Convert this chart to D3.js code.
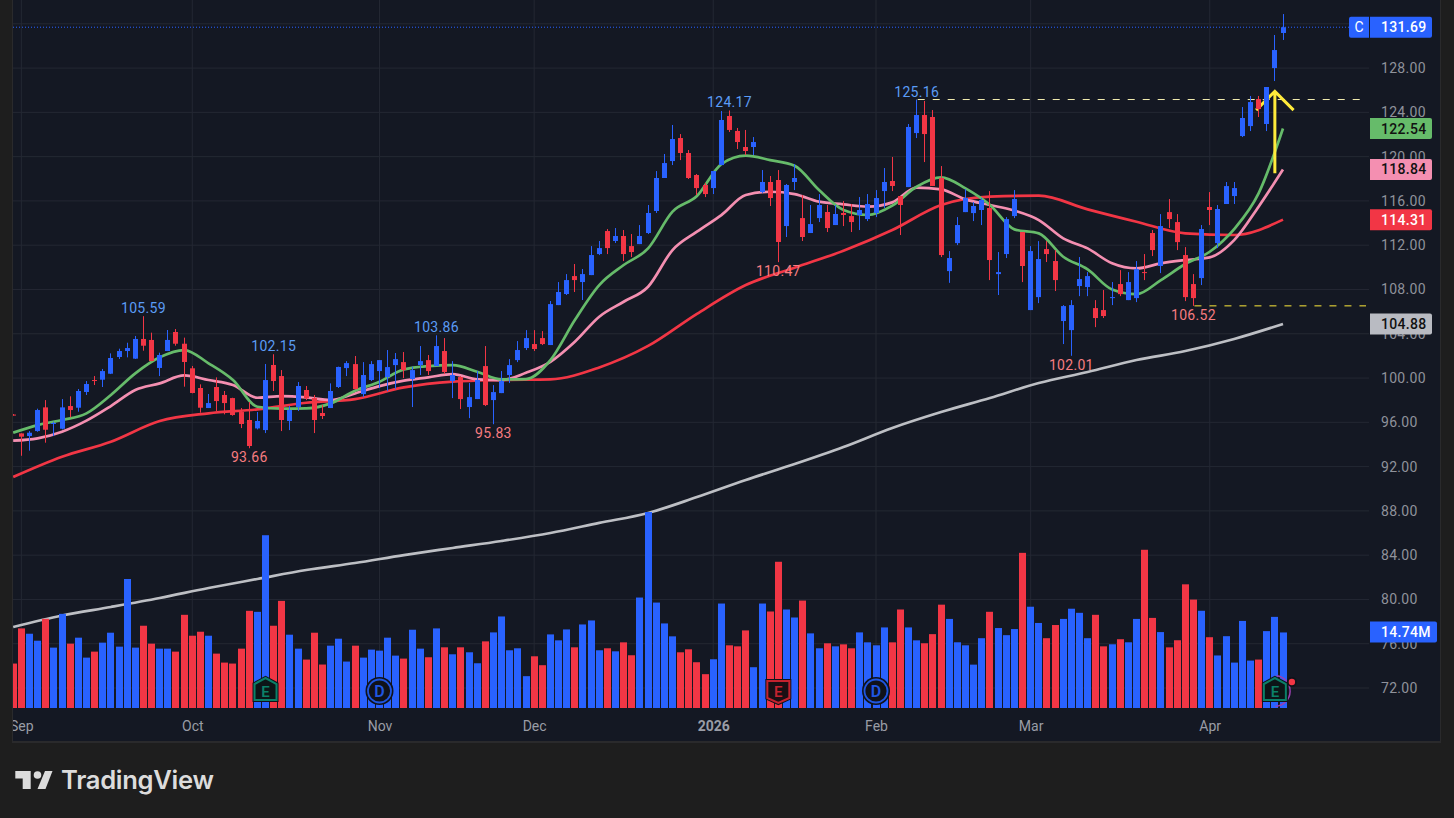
<!DOCTYPE html>
<html>
<head>
<meta charset="utf-8">
<script src="https://cdn.jsdelivr.net/npm/d3@7"></script>
<style>
html, body { margin: 0; padding: 0; background: #1e1e1e; overflow: hidden; }
svg { display: block; font-family: Roboto, "Open Sans", sans-serif; }
</style>
</head>
<body>
<svg id="chart" width="1454" height="818"></svg>
<script>
// candles, first entry is the half hidden bar before Sep
const opens = [96.70,95.00,94.76,95.21,97.35,95.85,95.42,97.47,97.32,98.74,99.82,99.85,100.39,101.90,102.44,101.75,103.53,103.44,100.91,102.44,104.16,103.10,100.88,99.10,97.29,99.19,98.47,98.19,96.93,96.21,95.45,95.30,101.18,100.18,96.12,97.38,98.92,98.19,96.84,97.29,99.19,
  100.90,101.26,98.55,99.82,100.63,100.09,101.17,101.44,99.91,101.17,101.62,101.08,102.44,99.73,100.09,97.38,98.10,101.08,98.01,98.64,100.27,101.62,102.71,103.07,103.61,102.98,106.59,107.59,109.21,108.67,109.30,111.20,113.28,112.38,112.83,111.92,
  112.10,113.10,115.09,118.07,119.60,121.68,120.33,118.34,117.44,117.16,119.24,123.67,122.32,120.87,120.87,116.80,117.71,117.89,113.73,117.71,114.45,113.10,114.45,115.00,113.82,114.91,114.63,114.73,114.36,114.91,116.89,117.80,116.44,117.25,122.13,123.76,123.58,118.07,109.66,
  112.19,114.99,114.90,115.18,115.36,109.39,111.20,114.63,113.19,106.14,107.31,111.65,110.57,105.15,104.33,108.31,108.22,106.32,106.14,107.22,108.49,107.04,107.22,109.57,113.10,110.12,114.99,114.09,111.11,108.49,109.03,115.45,112.19,115.72,116.44,
  121.86,122.76,125.20,122.95,128.00,131.17];
const highs = [96.75,95.00,95.21,97.23,98.01,96.06,98.10,98.35,99.01,99.73,100.18,100.82,102.23,102.65,103.19,103.80,105.59,104.10,102.29,104.34,104.43,103.65,101.09,99.43,98.56,100.06,98.83,98.22,97.29,97.83,96.93,101.27,102.15,100.72,97.47,99.64,99.28,98.47,97.56,99.52,101.03,
  101.53,101.99,101.44,101.53,101.62,102.53,102.26,102.35,101.02,102.89,102.08,103.86,103.61,101.53,100.18,99.55,100.63,102.89,99.36,100.63,101.71,103.34,104.33,104.33,104.24,106.96,108.67,109.39,110.30,109.85,111.92,112.38,113.46,113.55,113.37,113.01,
  113.82,115.63,118.70,120.24,122.86,122.04,120.60,118.43,117.62,118.70,124.12,124.17,122.59,122.41,121.77,118.79,118.25,118.79,117.53,119.33,116.53,115.63,116.62,115.63,115.63,115.99,115.72,116.35,116.62,116.98,118.97,119.97,116.44,122.95,125.16,125.03,124.21,119.15,111.47,
  114.54,117.07,115.90,116.26,116.89,111.38,114.54,116.98,113.19,111.92,112.37,112.37,111.56,106.59,107.04,110.93,109.57,107.04,107.95,108.67,109.75,109.57,110.57,111.20,113.37,114.81,116.17,114.81,111.83,109.39,113.82,116.80,115.63,117.71,117.71,
  124.48,125.48,125.48,126.29,130.99,132.88];
const lows = [96.60,92.98,93.44,95.15,94.16,94.76,95.36,96.45,96.96,98.47,99.37,99.19,100.36,101.72,101.87,101.72,102.47,101.51,100.18,102.44,102.92,99.22,98.62,96.87,97.29,97.02,96.72,96.60,95.48,93.66,95.36,95.03,98.83,95.21,95.30,97.02,98.01,95.03,96.30,97.29,99.10,
  100.18,98.97,98.28,99.73,99.09,98.82,99.00,100.00,97.38,100.27,100.27,101.08,100.36,98.19,97.20,96.38,98.10,97.47,95.83,98.64,99.55,101.44,102.53,102.44,102.98,102.98,106.59,107.50,107.77,107.05,109.30,111.11,111.20,112.20,110.57,110.93,
  112.10,113.01,114.91,118.07,119.24,119.69,117.98,116.53,116.35,116.62,119.24,122.23,120.69,120.15,120.15,116.71,115.54,110.47,112.74,116.98,112.38,113.10,114.09,113.19,113.82,113.73,113.19,113.37,114.18,114.54,115.36,116.89,112.92,117.25,121.68,119.51,117.35,110.93,108.60,
  112.01,114.99,114.18,113.82,108.85,107.50,110.84,114.45,108.67,106.14,106.77,110.48,107.86,103.07,102.01,107.40,107.40,104.60,105.42,106.59,107.40,107.04,106.86,108.85,111.02,109.48,113.55,111.56,106.95,106.52,108.40,113.82,111.74,115.72,115.72,
  121.77,122.31,123.58,122.31,126.83,130.54];
const closes = [96.62,94.70,95.06,97.11,95.33,95.94,97.35,97.11,98.83,99.46,99.73,100.63,101.81,102.44,102.71,103.53,102.92,101.54,102.08,103.44,103.10,101.45,98.65,97.32,97.74,97.92,97.74,96.66,95.85,93.86,96.12,99.82,99.73,96.21,97.11,99.28,98.16,96.21,96.57,98.83,101.00,
  101.35,99.00,100.27,101.26,101.62,100.99,101.71,100.72,100.72,101.53,100.63,102.89,100.54,100.27,98.10,98.28,99.82,97.56,98.73,99.73,101.17,102.53,103.61,102.62,103.07,106.68,107.77,108.85,108.85,109.39,111.11,111.74,111.74,112.83,111.20,111.38,
  112.83,114.91,118.07,119.42,121.59,120.33,118.07,117.16,116.62,118.70,123.31,122.41,121.32,120.51,121.32,117.71,116.26,112.29,117.44,118.07,112.74,113.91,115.63,113.55,114.82,114.73,114.09,115.18,115.72,116.26,117.71,117.35,115.63,122.68,123.76,122.04,117.35,111.11,110.84,
  113.82,116.26,115.54,116.08,110.66,109.57,114.36,116.17,110.12,111.47,110.75,111.20,108.85,106.50,106.59,108.94,109.21,105.42,105.60,107.31,107.58,108.67,109.84,109.48,111.56,113.73,114.36,112.28,107.31,107.22,113.46,115.18,115.27,117.34,117.16,
  123.49,124.93,124.30,126.29,129.63,131.69];
// volume in millions
const volumes = [8.67,15.53,14.49,13.13,17.40,11.78,18.37,12.55,13.72,9.83,11.00,12.75,14.69,11.97,25.17,11.78,16.05,12.55,11.58,11.58,11.00,18.18,14.10,14.88,14.10,10.61,8.86,8.67,11.58,18.96,18.76,33.71,16.05,20.90,14.30,11.58,9.45,14.69,8.48,12.16,13.52,
  9.06,12.16,9.83,11.39,11.19,13.72,10.22,9.64,15.27,11.58,9.90,15.53,11.84,10.48,11.84,10.87,8.73,13.00,14.75,17.86,11.26,11.65,6.21,10.09,8.35,14.36,13.20,15.33,11.84,16.30,17.08,11.26,11.65,11.06,12.81,10.29,
  21.55,38.24,20.57,16.50,13.98,10.87,11.45,8.93,6.60,9.51,20.38,12.23,12.03,15.14,7.96,20.38,18.83,28.53,19.22,17.66,20.96,14.56,11.65,12.62,12.03,12.42,11.65,14.75,12.81,12.23,15.72,12.81,19.22,15.72,13.20,
  12.63,14.41,20.16,17.38,12.82,12.23,8.46,13.62,18.77,15.60,14.21,15.40,30.27,19.76,16.59,13.62,16.19,17.38,19.37,18.57,13.62,18.18,12.03,12.43,13.42,12.82,17.38,30.87,17.58,14.81,11.83,13.22,24.13,21.15,18.97,13.81,10.25,14.01,8.86,
  16.99,9.25,9.45,15.00,17.78,14.74];

// moving averages, read every 3 bars (green, pink) or every 6 bars (red, grey)
const fastIdx = d3.range(-1, 156, 3);
const slowIdx = d3.range(-1, 156, 6);
const greenMA = [95.06,95.75,96.21,96.81,98.47,100.42,101.87,102.53,101.33,99.82,97.41,97.23,97.26,97.71,98.85,99.67,100.78,101.08,101.17,100.57,99.88,99.91,101.62,105.24,108.4,110.21,111.71,115.03,116.44,119.33,120.09,119.69,119.18,116.98,115.18,114.73,115.57,117.29,118.13,117.13,115.63,113.43,113.07,110.96,109.81,108.0,107.58,108.85,110.3,111.41,113.46,116.68,122.54];
const pinkMA = [94.34,94.55,95.15,96.15,97.47,98.92,99.52,100.24,99.82,99.37,98.22,98.37,98.25,98.01,98.61,99.27,99.76,100.06,100.36,99.88,99.82,100.48,101.47,103.28,105.54,106.89,108.25,111.56,113.22,114.72,116.53,116.83,116.62,115.93,115.69,115.48,115.87,117.2,117.04,116.14,115.63,115.12,114.27,112.62,111.71,110.36,109.9,110.36,110.66,110.9,112.46,115.48,118.84];
const redMA = [91.06,92.89,94.25,96.12,96.81,97.17,97.77,98.1,99.15,99.67,99.82,99.88,100.96,102.9,105.8,108.4,109.97,111.5,113.37,115.63,116.38,116.47,115.24,114.12,113.07,112.92,114.31];
const greyMA = [77.51,78.55,79.32,80.13,81.03,81.85,82.66,83.29,84.01,84.65,85.28,86.0,86.91,87.81,89.25,90.79,92.23,93.77,95.49,96.93,98.2,99.55,100.55,101.63,102.44,103.53,104.88];

const priceTicks = d3.range(72, 133, 4);
const monthIdx = [0, 21, 44, 63, 85, 105, 124, 146];
const monthLabels = ["Sep", "Oct", "Nov", "Dec", "2026", "Feb", "Mar", "Apr"];

const highNotes = [[15, 105.59], [31, 102.15], [51, 103.86], [87, 124.17], [110, 125.16]];
const lowNotes = [[28, 93.66], [58, 95.83], [93, 110.47], [129, 102.01], [144, 106.52]];
const levels = [[110, 125.16, "#f4eeb0"], [144, 106.52, "#ffeb3b"]];
const events = [[30, "E", "up"], [44, "D"], [93, "E", "down"], [105, "D"], [154, "E", "up"]];
const arrowFrom = [154, 118.5];
const arrowTo = [154, 125.9];
const arrowWing = 2.3;

const BLUE = "#2962ff", RED = "#f23645", GREEN = "#66bb6a", PINK = "#f48fb1", GREY = "#bdbfc4";

const svg = d3.select("#chart");

const x = d3.scaleLinear().domain([-1, 155]).range([13.2, 1283]);
const y = d3.scaleLinear().domain([72, 132]).range([688, 23.8]);
const yVol = d3.scaleLinear().domain([0, 38.24]).range([708, 512]);

// chart panel
svg.append("rect").attr("x", 12).attr("y", 0).attr("width", 1429).attr("height", 743).attr("fill", "#2a2a2c");
svg.append("rect").attr("x", 13).attr("y", 0).attr("width", 1427).attr("height", 741).attr("fill", "#141823");

svg.append("defs").append("clipPath").attr("id", "pane")
  .append("rect").attr("x", 13).attr("y", 0).attr("width", 1356).attr("height", 741);

const pane = svg.append("g").attr("clip-path", "url(#pane)");

// grid
pane.append("g").selectAll("line").data(priceTicks).join("line")
  .attr("x1", 13).attr("x2", 1369).attr("y1", d => y(d)).attr("y2", d => y(d))
  .attr("stroke", "#242833");
pane.append("g").selectAll("line").data(monthIdx).join("line")
  .attr("x1", d => x(d)).attr("x2", d => x(d)).attr("y1", 0).attr("y2", 708)
  .attr("stroke", "#242833");

// moving averages
const maLine = d3.line().x(d => x(d[0])).y(d => y(d[1])).curve(d3.curveMonotoneX);
const maSeries = [
  [slowIdx, greyMA, GREY],
  [slowIdx, redMA, RED],
  [fastIdx, pinkMA, PINK],
  [fastIdx, greenMA, GREEN]
];
maSeries.forEach(([idx, vals, color]) => {
  pane.append("path")
    .attr("d", maLine(idx.map((d, i) => [d, vals[i]])))
    .attr("fill", "none").attr("stroke", color).attr("stroke-width", 2.7);
});

// volume
const bars = d3.range(closes.length);
pane.append("g").selectAll("rect").data(bars).join("rect")
  .attr("x", d => Math.floor(x(d - 1)) - 3).attr("width", 7)
  .attr("y", d => yVol(volumes[d])).attr("height", d => 708 - yVol(volumes[d]))
  .attr("fill", d => closes[d] >= opens[d] ? BLUE : RED);

// close price dotted line
pane.append("line").attr("x1", 13).attr("x2", 1349).attr("y1", y(131.69)).attr("y2", y(131.69))
  .attr("stroke", BLUE).attr("stroke-dasharray", "1 2");

// level lines
pane.append("g").selectAll("line").data(levels).join("line")
  .attr("x1", d => x(d[0]) + 1).attr("x2", 1366).attr("y1", d => y(d[1])).attr("y2", d => y(d[1]))
  .attr("stroke", d => d[2]).attr("stroke-dasharray", "7 8");

// arrow
pane.append("path")
  .attr("d", d3.line()([
    [x(arrowFrom[0]), y(arrowFrom[1])],
    [x(arrowTo[0]), y(arrowTo[1])]
  ]) + d3.line()([
    [x(arrowTo[0] - arrowWing), y(arrowTo[1] - 1.7)],
    [x(arrowTo[0]), y(arrowTo[1])],
    [x(arrowTo[0] + arrowWing), y(arrowTo[1] - 1.7)]
  ]))
  .attr("fill", "none").attr("stroke", "#ffeb3b").attr("stroke-width", 3);

// candles
const candles = pane.append("g").selectAll("g").data(bars).join("g")
  .attr("fill", d => closes[d] >= opens[d] ? BLUE : RED);
candles.append("rect")
  .attr("x", d => Math.floor(x(d - 1))).attr("width", 1)
  .attr("y", d => y(highs[d])).attr("height", d => y(lows[d]) - y(highs[d]));
candles.append("rect")
  .attr("x", d => Math.floor(x(d - 1)) - 2).attr("width", 5)
  .attr("y", d => y(Math.max(opens[d], closes[d])))
  .attr("height", d => Math.max(1, Math.abs(y(opens[d]) - y(closes[d]))));

// high / low notes
pane.append("g").selectAll("text").data(highNotes).join("text")
  .attr("x", d => x(d[0])).attr("y", d => y(d[1]) - 3)
  .attr("text-anchor", "middle").attr("fill", "#5b9cf6").attr("font-size", 14)
  .attr("letter-spacing", 0.3).text(d => d[1].toFixed(2));
pane.append("g").selectAll("text").data(lowNotes).join("text")
  .attr("x", d => x(d[0])).attr("y", d => y(d[1]) + 14)
  .attr("text-anchor", "middle").attr("fill", "#f77c80").attr("font-size", 14)
  .attr("letter-spacing", 0.3).text(d => d[1].toFixed(2));

// earnings and dividend badges
const housePts = "-11,-7 0,-13 11,-7 11,9 -11,9";
const shieldPts = "-11,-10 11,-10 11,7 0,12 -11,7";
const badges = pane.append("g").selectAll("g").data(events).join("g")
  .attr("transform", d => `translate(${x(d[0])},691)`);
badges.filter((d, i) => i === events.length - 1).append("path")
  .attr("d", d3.arc()({ innerRadius: 14.5, outerRadius: 16, startAngle: 0.1, endAngle: 3.1 }))
  .attr("fill", "#9c3fb0");
badges.each(function (d) {
  const g = d3.select(this);
  const color = d[1] === "D" ? "#1f56e0" : d[2] === "up" ? "#0b8068" : "#c4222f";
  if (d[1] === "D") {
    g.append("circle").attr("r", 14).attr("fill", "#10121a");
    g.append("circle").attr("r", 11.5).attr("fill", "#10121a").attr("stroke", color).attr("stroke-width", 1.8);
  } else {
    g.append("polygon").attr("points", d[2] === "up" ? housePts : shieldPts)
      .attr("fill", "#0f1216").attr("stroke", "#10121a").attr("stroke-width", 4);
    g.append("polygon").attr("points", d[2] === "up" ? housePts : shieldPts)
      .attr("fill", d[2] === "up" ? "#0c1517" : "#1a0f14").attr("stroke", color).attr("stroke-width", 2);
  }
  g.append("text").attr("y", 5.5).attr("text-anchor", "middle")
    .attr("fill", color).attr("font-size", d[1] === "D" ? 16 : 15).attr("font-weight", 600).text(d[1]);
});
pane.append("circle").attr("cx", x(154) + 17).attr("cy", 682).attr("r", 5).attr("fill", "#10121a");
pane.append("circle").attr("cx", x(154) + 17).attr("cy", 682).attr("r", 3.2).attr("fill", RED);

// price axis, the 132 tick has a grid line but its label sits under the close label
const yAxis = d3.axisRight(y).tickValues(priceTicks.filter(d => d < 132)).tickSize(0).tickPadding(0)
  .tickFormat(d3.format(".2f"));
const yAxisG = svg.append("g").attr("transform", "translate(1381,0)").call(yAxis);
yAxisG.select(".domain").remove();
yAxisG.selectAll("text").attr("x", 0).attr("fill", "#8f929b").attr("font-size", 14).attr("font-family", "Roboto")
  .attr("letter-spacing", 0.3);

// time axis
const xAxis = d3.axisBottom(x).tickValues(monthIdx).tickSize(0).tickPadding(0)
  .tickFormat((d, i) => monthLabels[i]);
const xAxisG = pane.append("g").attr("transform", "translate(0,721)").call(xAxis);
xAxisG.select(".domain").remove();
xAxisG.selectAll("text").attr("fill", "#9a9da6").attr("font-size", 14).attr("font-family", "Roboto")
  .attr("font-weight", d => d === 85 ? 700 : 400);

// last value labels
const lastLabels = [
  [131.69, "131.69", BLUE, "#fff", 62],
  [122.54, "122.54", GREEN, "#111", 62],
  [118.84, "118.84", PINK, "#111", 62],
  [114.31, "114.31", RED, "#fff", 62],
  [104.88, "104.88", "#b9bbc2", "#111", 62]
];
function valueBox(cy, label, bg, fg, w) {
  const g = svg.append("g").attr("transform", `translate(1370,${cy})`);
  g.append("path")
    .attr("d", `M0,-10.5H${w - 2}a2,2 0 0 1 2,2V8.5a2,2 0 0 1 -2,2H0Z`).attr("fill", bg);
  g.append("text").attr("x", 11).attr("y", 5).attr("fill", fg).attr("font-size", 14)
    .attr("font-weight", 500).attr("letter-spacing", 0.3).text(label);
}
lastLabels.forEach(d => valueBox(y(d[0]), d[1], d[2], d[3], d[4]));
valueBox(yVol(14.74) - 0.5, "14.74M", BLUE, "#fff", 67);

const cBox = svg.append("g").attr("transform", `translate(1349,${y(131.69)})`);
cBox.append("path").attr("d", "M2,-10.5H20V10.5H2a2,2 0 0 1 -2,-2V-8.5a2,2 0 0 1 2,-2Z").attr("fill", BLUE);
cBox.append("text").attr("x", 10).attr("y", 5).attr("text-anchor", "middle").attr("fill", "#fff")
  .attr("font-size", 14).text("C");

// TradingView logo
const logo = svg.append("g").attr("fill", "#dcdcdc");
logo.append("path").attr("d", "M15.3,771H30.7V789H22.7V778.5H15.3Z");
logo.append("circle").attr("cx", 37.5).attr("cy", 775).attr("r", 3.8);
logo.append("path").attr("d", "M45,771H52.5L45.5,789H37.5Z");
logo.append("text").attr("x", 61).attr("y", 789).attr("font-family", "Inter").attr("font-size", 25.6)
  .attr("font-weight", 600).attr("letter-spacing", -0.3).text("TradingView");
</script>
</body>
</html>
